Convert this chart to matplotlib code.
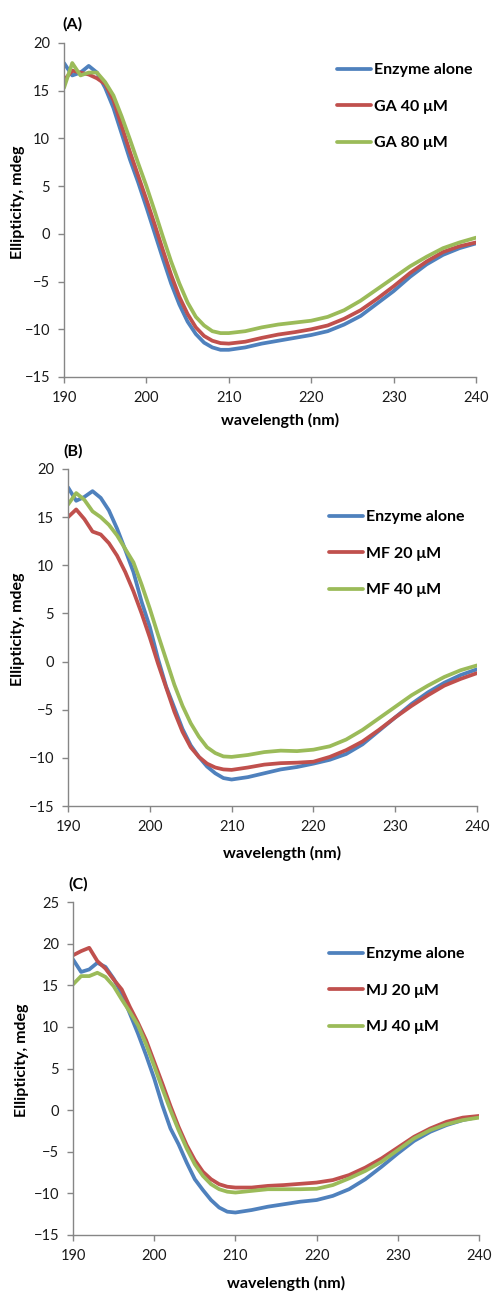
import matplotlib
matplotlib.use("Agg")
import matplotlib.pyplot as plt

plt.rcParams['font.family'] = ['Lato', 'DejaVu Sans']

# wavelengths (nm)
wl = [190, 191, 192, 193, 194, 195, 196, 197, 198, 199, 200, 201, 202, 203, 204,
      205, 206, 207, 208, 209, 210, 212, 214, 216, 218, 220, 222, 224, 226, 228,
      230, 232, 234, 236, 238, 240]

# panel A
a_enzyme = [17.9, 16.6, 16.9, 17.6, 16.9, 15.3, 13.2, 10.5, 7.8, 5.4, 2.8, 0.1, -2.6, -5.2, -7.4,
            -9.2, -10.5, -11.4, -11.9, -12.15, -12.15, -11.9, -11.5, -11.2, -10.9, -10.6, -10.2, -9.5, -8.6, -7.3,
            -6.0, -4.5, -3.2, -2.2, -1.5, -1.0]
a_ga40 = [16.1, 17.1, 16.9, 16.7, 16.3, 15.7, 14.0, 11.3, 8.6, 6.1, 3.6, 1.0, -1.7, -4.3, -6.6,
          -8.4, -9.8, -10.7, -11.2, -11.45, -11.5, -11.3, -10.9, -10.55, -10.3, -10.0, -9.6, -8.9, -8.0, -6.8,
          -5.5, -4.1, -2.9, -1.9, -1.3, -0.9]
a_ga80 = [15.3, 17.9, 16.6, 16.9, 16.9, 15.9, 14.5, 12.3, 9.9, 7.4, 5.0, 2.4, -0.3, -2.9, -5.2,
          -7.2, -8.7, -9.6, -10.2, -10.4, -10.4, -10.2, -9.8, -9.5, -9.3, -9.1, -8.7, -8.0, -7.0, -5.8,
          -4.6, -3.4, -2.4, -1.5, -0.9, -0.4]

# panel B
b_enzyme = [18.1, 16.7, 17.1, 17.7, 17.0, 15.7, 13.8, 11.6, 9.3, 6.2, 3.6, 0.3, -2.6, -4.8, -7.0,
            -8.7, -9.9, -10.9, -11.6, -12.1, -12.25, -12.0, -11.6, -11.2, -10.95, -10.6, -10.2, -9.6, -8.6, -7.2,
            -5.8, -4.4, -3.2, -2.2, -1.4, -0.8]
b_mf20 = [15.0, 15.8, 14.8, 13.5, 13.2, 12.3, 11.0, 9.3, 7.3, 5.0, 2.5, -0.2, -2.7, -5.2, -7.3,
          -8.9, -9.9, -10.6, -11.0, -11.2, -11.25, -11.0, -10.7, -10.55, -10.5, -10.4, -9.9, -9.2, -8.3, -7.1,
          -5.8, -4.6, -3.5, -2.5, -1.8, -1.2]
b_mf40 = [16.3, 17.5, 16.8, 15.6, 15.0, 14.2, 13.1, 11.7, 10.3, 8.0, 5.5, 2.8, 0.2, -2.4, -4.6,
          -6.4, -7.8, -8.9, -9.5, -9.85, -9.9, -9.7, -9.4, -9.25, -9.3, -9.15, -8.8, -8.1, -7.1, -5.9,
          -4.7, -3.5, -2.5, -1.6, -0.9, -0.4]

# panel C
c_enzyme = [18.1, 16.6, 16.9, 17.7, 17.2, 15.8, 14.0, 11.6, 9.2, 6.6, 3.8, 0.6, -2.2, -4.1, -6.3,
            -8.3, -9.6, -10.8, -11.7, -12.2, -12.3, -12.0, -11.6, -11.3, -11.0, -10.8, -10.3, -9.5, -8.3, -6.8,
            -5.2, -3.7, -2.6, -1.8, -1.2, -0.8]
c_mj20 = [18.6, 19.1, 19.5, 17.9, 17.0, 15.7, 14.5, 12.4, 10.5, 8.4, 5.8, 3.2, 0.5, -2.0, -4.2,
          -6.0, -7.4, -8.3, -8.9, -9.2, -9.3, -9.3, -9.1, -9.0, -8.85, -8.7, -8.4, -7.8, -6.9, -5.8,
          -4.5, -3.2, -2.2, -1.4, -0.9, -0.7]
c_mj40 = [15.1, 16.1, 16.1, 16.5, 16.0, 14.9, 13.3, 11.8, 10.2, 7.9, 5.3, 2.6, 0.0, -2.4, -4.6,
          -6.5, -7.9, -8.9, -9.5, -9.8, -9.9, -9.7, -9.5, -9.5, -9.5, -9.45, -9.0, -8.2, -7.3, -6.2,
          -4.8, -3.4, -2.4, -1.7, -1.2, -0.9]

panels = [
    ("(A)", [a_enzyme, a_ga40, a_ga80], ["Enzyme alone", "GA 40 μM", "GA 80 μM"], (-15, 20)),
    ("(B)", [b_enzyme, b_mf20, b_mf40], ["Enzyme alone", "MF 20 μM", "MF 40 μM"], (-15, 20)),
    ("(C)", [c_enzyme, c_mj20, c_mj40], ["Enzyme alone", "MJ 20 μM", "MJ 40 μM"], (-15, 25)),
]
colors = ["#4F81BD", "#C0504D", "#9BBB59"]

W, H = 493, 1294
fig = plt.figure(figsize=(W / 100, H / 100), dpi=100)

# pixel boxes: left, right, top, bottom
boxes = [(64, 476, 43, 377), (68, 477, 469, 806), (73, 479, 902, 1235)]
tag_pos = [(62, 24), (63, 451), (68, 884)]
ylab_x = [18, 18, 22]
xlab_y = [420, 853, 1283]
leg_pos = [(337, 63), (329, 510), (329, 947)]

for i, (tag, series, labels, ylim) in enumerate(panels):
    l, r, t, b = boxes[i]
    ax = fig.add_axes([l / W, 1 - b / H, (r - l) / W, (b - t) / H])
    for y, c, lab in zip(series, colors, labels):
        ax.plot(wl, y, color=c, lw=2.7, label=lab, solid_capstyle='round',
                solid_joinstyle='round')
    ax.set_xlim(190, 240)
    ax.set_ylim(*ylim)
    ax.set_xticks(range(190, 241, 10))
    ax.set_yticks(range(ylim[0], ylim[1] + 1, 5))
    for s in ["top", "right"]:
        ax.spines[s].set_visible(False)
    for s in ["left", "bottom"]:
        ax.spines[s].set_color("#868686")
        ax.spines[s].set_linewidth(1.0)
    ax.tick_params(direction="out", length=4, width=1, color="#868686",
                   labelsize=10.5, labelcolor="#1a1a1a")
    ax.tick_params(axis="x", pad=6)
    ax.tick_params(axis="y", pad=6)

    fig.text(tag_pos[i][0] / W, 1 - tag_pos[i][1] / H, tag, fontsize=11.5,
             fontweight="bold", ha="left", va="center")
    fig.text(ylab_x[i] / W, 1 - ((t + b) / 2 - 8) / H, "Ellipticity, mdeg",
             fontsize=11.5, fontweight="bold", rotation=90, ha="center", va="center")
    fig.text(((l + r) / 2 + 10) / W, 1 - xlab_y[i] / H, "wavelength (nm)",
             fontsize=11.5, fontweight="bold", ha="center", va="center")

    lx, ly = leg_pos[i]
    leg = ax.legend(loc="upper left", bbox_to_anchor=((lx - l) / (r - l), (b - ly) / (b - t)),
                    frameon=False, borderaxespad=0, borderpad=0, handlelength=2.1,
                    handletextpad=0.2, labelspacing=1.4,
                    prop={"weight": "bold", "size": 11.5})

fig.savefig("out.png", dpi=100)
